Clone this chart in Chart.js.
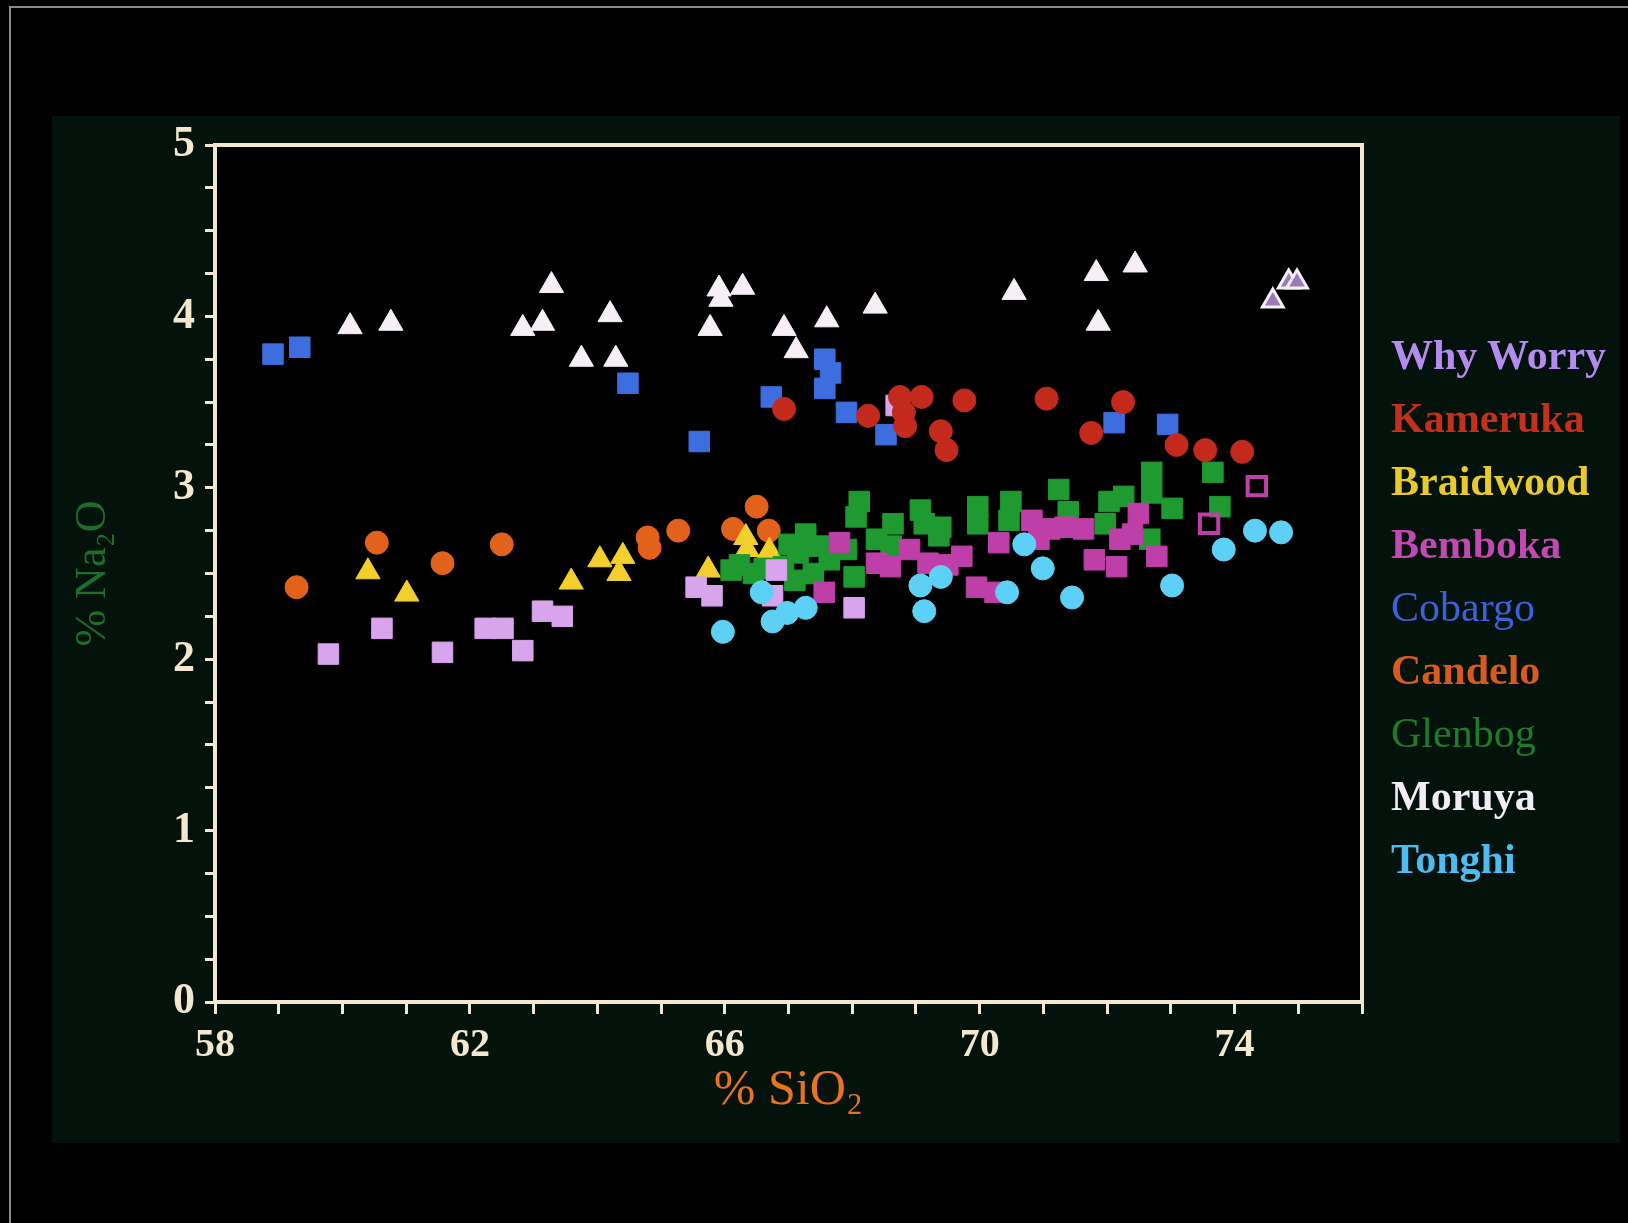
<!DOCTYPE html>
<html>
<head>
<meta charset="utf-8">
<title>% Na2O vs % SiO2</title>
<script src="https://cdn.jsdelivr.net/npm/chart.js@4.4.1/dist/chart.umd.min.js"></script>
<style>
  html, body { margin: 0; padding: 0; background: #000; }
  #wrap { position: relative; width: 1628px; height: 1223px; overflow: hidden; background: #000; }
  #frame { position: absolute; left: 9px; top: 6px; right: 0; bottom: 0; border-top: 2px solid #8c8c8c; border-left: 2px solid #8c8c8c; }
  #chart { position: absolute; left: 0; top: 0; }
  #legend { position: absolute; left: 1391px; top: 324px; font-family: "Liberation Serif", "DejaVu Serif", serif; font-size: 42px; font-weight: bold; }
  #legend div { height: 63px; line-height: 63px; white-space: nowrap; }
</style>
</head>
<body>
<div id="wrap">
  <div id="frame"></div>
  <canvas id="chart" width="1628" height="1223"></canvas>
  <div id="legend"></div>
</div>
<script>
// x = % SiO2, y = % Na2O
const xTickLabels = [58, 62, 66, 70, 74];
const yTickLabels = [0, 1, 2, 3, 4, 5];

const legendNames = ['Why Worry', 'Kameruka', 'Braidwood', 'Bemboka', 'Cobargo', 'Candelo', 'Glenbog', 'Moruya', 'Tonghi'];

const whyWorry = [
  [59.78, 2.03], [60.62, 2.18], [61.57, 2.04], [62.24, 2.18], [62.52, 2.18], [62.83, 2.05],
  [63.14, 2.28], [63.45, 2.25], [65.55, 2.42], [65.8, 2.37], [66.75, 2.37], [66.81, 2.52],
  [68.03, 2.3], [68.69, 3.48]
];
const whyWorryTri = [[74.6, 4.09], [74.85, 4.2], [74.98, 4.2]];

const kameruka = [
  [66.93, 3.46], [68.25, 3.42], [68.75, 3.53], [69.09, 3.53], [68.81, 3.44], [68.83, 3.36],
  [69.39, 3.33], [69.48, 3.22], [69.76, 3.51], [71.05, 3.52], [71.75, 3.32], [72.25, 3.5],
  [73.09, 3.25], [73.54, 3.22], [74.12, 3.21]
];

const braidwood = [
  [60.4, 2.51], [61.01, 2.38], [63.59, 2.45], [64.04, 2.58], [64.4, 2.6], [64.34, 2.5],
  [65.74, 2.52], [66.33, 2.71], [66.35, 2.64], [66.7, 2.63]
];

const bemboka = [
  [67.56, 2.39], [67.8, 2.68], [68.38, 2.56], [68.6, 2.54], [68.9, 2.64], [69.19, 2.56],
  [69.5, 2.55], [69.72, 2.6], [69.95, 2.42], [70.24, 2.39], [70.3, 2.68], [70.82, 2.81],
  [70.93, 2.7], [71.1, 2.76], [71.34, 2.77], [71.63, 2.76], [71.8, 2.58], [72.15, 2.54],
  [72.2, 2.7], [72.4, 2.73], [72.49, 2.85], [72.78, 2.6]
];
const bembokaOpen = [[73.6, 2.79], [74.35, 3.01]];

const cobargo = [
  [58.91, 3.78], [59.33, 3.82], [64.48, 3.61], [65.6, 3.27], [66.73, 3.53], [67.57, 3.75],
  [67.66, 3.67], [67.57, 3.58], [67.91, 3.44], [68.53, 3.31], [72.11, 3.38], [72.95, 3.37]
];

const candelo = [
  [59.28, 2.42], [60.54, 2.68], [61.57, 2.56], [62.5, 2.67], [64.79, 2.71], [64.82, 2.65],
  [65.27, 2.75], [66.13, 2.76], [66.5, 2.89], [66.69, 2.75]
];

const glenbog = [
  [66.1, 2.52], [66.23, 2.55], [66.45, 2.5], [66.62, 2.53], [66.92, 2.54], [67.01, 2.67],
  [67.1, 2.46], [67.15, 2.62], [67.27, 2.73], [67.39, 2.5], [67.47, 2.66], [67.64, 2.58],
  [67.91, 2.64], [68.03, 2.48], [68.06, 2.83], [68.11, 2.92], [68.38, 2.7], [68.61, 2.66],
  [68.64, 2.79], [69.07, 2.87], [69.13, 2.79], [69.36, 2.72], [69.39, 2.77], [69.97, 2.89],
  [69.97, 2.79], [70.46, 2.81], [70.49, 2.92], [71.24, 2.99], [71.39, 2.86], [71.97, 2.79],
  [72.03, 2.92], [72.26, 2.95], [72.7, 3.09], [72.7, 2.97], [72.67, 2.7], [73.02, 2.88],
  [73.66, 3.09], [73.77, 2.89]
];

const moruya = [
  [60.12, 3.94], [60.76, 3.96], [62.83, 3.93], [63.14, 3.96], [63.28, 4.18], [63.75, 3.75],
  [64.2, 4.01], [64.29, 3.75], [65.77, 3.93], [65.91, 4.16], [65.94, 4.1], [66.28, 4.17],
  [66.93, 3.93], [67.12, 3.8], [67.6, 3.98], [68.36, 4.06], [70.54, 4.14], [71.83, 4.25],
  [71.86, 3.96], [72.44, 4.3]
];

const tonghi = [
  [65.97, 2.16], [66.58, 2.39], [66.75, 2.22], [66.98, 2.27], [67.27, 2.3], [69.07, 2.43],
  [69.39, 2.48], [69.13, 2.28], [70.43, 2.39], [70.7, 2.67], [70.99, 2.53], [71.45, 2.36],
  [73.02, 2.43], [73.83, 2.64], [74.32, 2.75], [74.73, 2.74]
];

const cream = '#f3e8cf';
const pointColors = {
  'Why Worry': '#d8a4ec', 'Kameruka': '#c42a1c', 'Braidwood': '#f2cf2c', 'Bemboka': '#bf3fa8',
  'Cobargo': '#3d6ee0', 'Candelo': '#e2621c', 'Glenbog': '#1f9a30', 'Moruya': '#f6f0f6', 'Tonghi': '#5dd0f5'
};
const textColors = {
  'Why Worry': '#b48cf0', 'Kameruka': '#c4301e', 'Braidwood': '#eac92a', 'Bemboka': '#c248b2',
  'Cobargo': '#3b62d8', 'Candelo': '#d85a1e', 'Glenbog': '#1f7a2a', 'Moruya': '#f2ecf4', 'Tonghi': '#4cbcf2'
};
const lightWeight = ['Cobargo', 'Glenbog'];

const toXY = (arr) => arr.map((p) => ({ x: p[0], y: p[1] }));

function series(label, data, style, radius, order) {
  const c = pointColors[label];
  return {
    label,
    data: toXY(data),
    pointStyle: style,
    pointRadius: radius,
    pointHoverRadius: radius,
    backgroundColor: c,
    borderColor: c,
    borderWidth: 1,
    order,
  };
}

const datasets = [
  series('Tonghi', tonghi, 'circle', 11.5, 1),
  series('Moruya', moruya, 'triangle', 14, 2),
  series('Kameruka', kameruka, 'circle', 11.5, 3),
  series('Cobargo', cobargo, 'rect', 14.5, 4),
  series('Why Worry', whyWorry, 'rect', 14.5, 5),
  series('Bemboka', bemboka, 'rect', 14.5, 6),
  series('Glenbog', glenbog, 'rect', 14.5, 7),
  series('Braidwood', braidwood, 'triangle', 14, 8),
  series('Candelo', candelo, 'circle', 11.5, 9),
  {
    label: 'Why Worry (tri)',
    data: toXY(whyWorryTri),
    pointStyle: 'triangle',
    pointRadius: 12,
    backgroundColor: '#9a7ab8',
    borderColor: '#f4eef6',
    borderWidth: 3,
    order: 0,
  },
  {
    label: 'Bemboka (open)',
    data: toXY(bembokaOpen),
    pointStyle: 'rect',
    pointRadius: 13,
    backgroundColor: 'rgba(0,0,0,0)',
    borderColor: pointColors['Bemboka'],
    borderWidth: 4,
    order: 0,
  },
];

const backdrop = {
  id: 'backdrop',
  beforeDraw(chart) {
    const { ctx, chartArea } = chart;
    ctx.save();
    ctx.fillStyle = '#03120b';
    ctx.fillRect(52, 116, 1568, 1027);
    ctx.fillStyle = '#000000';
    ctx.fillRect(chartArea.left, chartArea.top, chartArea.right - chartArea.left, chartArea.bottom - chartArea.top);
    ctx.restore();
  },
  afterDraw(chart) {
    const { ctx, chartArea } = chart;
    ctx.save();
    ctx.strokeStyle = cream;
    ctx.lineWidth = 4;
    ctx.strokeRect(chartArea.left, chartArea.top, chartArea.right - chartArea.left, chartArea.bottom - chartArea.top);
    ctx.restore();
  },
};

Chart.defaults.font.family = '"Liberation Serif", "DejaVu Serif", serif';

new Chart(document.getElementById('chart'), {
  type: 'scatter',
  data: { datasets },
  options: {
    responsive: false,
    animation: false,
    events: [],
    layout: { padding: { left: 52, top: 145, right: 266, bottom: 99 } },
    plugins: {
      legend: { display: false },
      tooltip: { enabled: false },
    },
    scales: {
      x: {
        type: 'linear',
        min: 58,
        max: 76,
        afterFit: (scale) => { scale.height = 122; },
        border: { display: true, color: cream, width: 4 },
        grid: { drawOnChartArea: false, drawTicks: true, tickLength: 12, tickWidth: 3, tickColor: cream },
        ticks: {
          stepSize: 1,
          autoSkip: false,
          maxRotation: 0,
          padding: 8,
          color: cream,
          font: { size: 40, weight: 'bold' },
          callback: (v) => (xTickLabels.includes(v) ? String(v) : ''),
        },
        title: {
          display: true,
          text: '% SiO₂',
          color: '#e8731e',
          font: { size: 50 },
          padding: { top: 0, bottom: 3 },
        },
      },
      y: {
        type: 'linear',
        min: 0,
        max: 5,
        afterFit: (scale) => { scale.width = 163; },
        border: { display: true, color: cream, width: 4 },
        grid: { drawOnChartArea: false, drawTicks: true, tickLength: 10, tickWidth: 3, tickColor: cream },
        ticks: {
          stepSize: 0.25,
          autoSkip: false,
          padding: 10,
          color: cream,
          font: { size: 44, weight: 'bold' },
          callback: (v) => (yTickLabels.includes(v) ? String(v) : ''),
        },
        title: {
          display: true,
          text: '% Na₂O',
          color: '#1d6e2c',
          font: { size: 44 },
          padding: { top: 15, bottom: 0 },
        },
      },
    },
  },
  plugins: [backdrop],
});

const legendEl = document.getElementById('legend');
legendNames.forEach((name) => {
  const row = document.createElement('div');
  row.textContent = name;
  row.style.color = textColors[name];
  if (lightWeight.includes(name)) row.style.fontWeight = 'normal';
  legendEl.appendChild(row);
});
</script>
</body>
</html>
